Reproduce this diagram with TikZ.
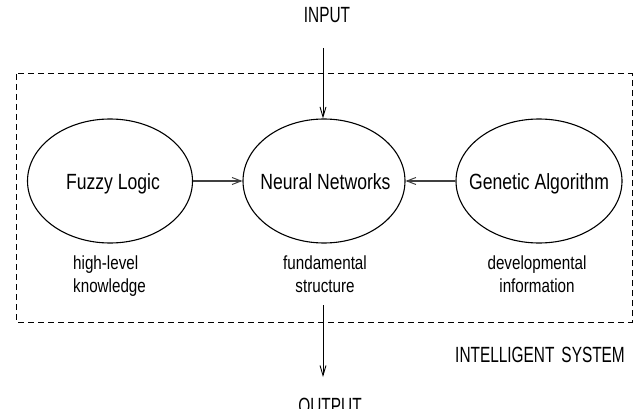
\documentclass[tikz,border=0pt]{standalone}
\usepackage{fontspec}
\setmainfont{Liberation Sans}[FakeStretch=0.8]
\newfontfamily\capsfont{Liberation Sans}[FakeStretch=0.7]
\usetikzlibrary{shapes.geometric,arrows.meta}
\newcommand{\zw}[1]{\makebox[0pt][c]{#1}}
\tikzset{
  blob/.style={draw, ellipse, line width=1.1pt, minimum height=124pt, inner sep=0pt,
    font=\fontsize{22}{26}\selectfont, text height=16pt, text depth=0pt},
  note/.style={inner sep=0pt, align=center, font=\fontsize{19}{23}\selectfont},
  capt/.style={inner sep=0pt, font=\capsfont\fontsize{22}{26}\selectfont},
  arr/.style={line width=0.9pt, -{Straight Barb[length=10pt,width=6pt,line width=0.9pt]}},
  harr/.style={line width=1.3pt, draw=black!75, -{Straight Barb[length=9pt,width=7pt,line width=1pt]}},
  sysbox/.style={draw, line width=1pt, dash pattern=on 6pt off 4pt}
}
\begin{document}
\begin{tikzpicture}[x=1pt,y=-1pt]
\useasboundingbox (0,0) rectangle (639,409);
\clip (0,0) rectangle (639,409);
\draw[sysbox] (16,74) rectangle (632,322);
\node[blob, minimum width=165pt] (fl) at (110,181) {\zw{\hspace{6pt}Fuzzy Logic}};
\node[blob, minimum width=162pt] (nn) at (324,181) {\zw{\hspace{3pt}Neural Networks}};
\node[blob, minimum width=166pt] (ga) at (539,181) {\zw{Genetic Algorithm}};
\node[note, align=left, anchor=north west] (fllab) at (73,256) {high-level\\knowledge};
\node[note, anchor=north] (nnlab) at (325,256) {fundamental\\structure};
\node[note, anchor=north] (galab) at (537,256) {developmental\\information};
\node[capt, anchor=base] (input) at (327,23) {INPUT};
\node[capt, anchor=base] (output) at (330,413) {OUTPUT};
\node[capt, anchor=base east] (sys) at (625,362) {INTELLIGENT\hspace{7pt}SYSTEM};
\coordinate (in0) at (323,48);
\coordinate (out0) at (323,305);
\coordinate (out1) at (323,377);
\draw[arr] (in0) -- (in0 |- nn.north);
\draw[arr] (out0) -- (out1);
\draw[harr] (fl.east) -- (nn.west);
\draw[harr] (ga.west) -- (nn.east);
\end{tikzpicture}
\end{document}
